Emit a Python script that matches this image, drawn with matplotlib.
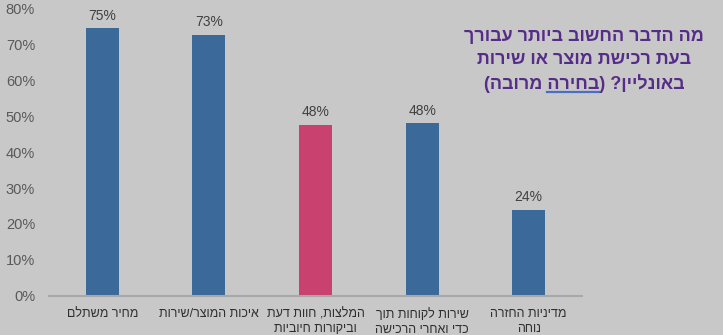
import matplotlib
matplotlib.use("Agg")
import matplotlib.pyplot as plt
from matplotlib.ticker import PercentFormatter

# --- data ---

categories = [
    "מחיר משתלם",
    "איכות המוצר/שירות",
    "המלצות, חוות דעת\nוביקורות חיוביות",
    "שירות לקוחות תוך\nכדי ואחרי הרכישה",
    "מדיניות החזרה\nנוחה",
]
values = [74.6, 72.8, 47.6, 48.1, 23.9]
highlight = 2

title_lines = [
    "מה הדבר החשוב ביותר עבורך",
    "בעת רכישת מוצר או שירות",
    "באונליין? (בחירה מרובה)",
]
underlined_word = "בחירה"

# --- helpers ---

def rtl(s):
    # matplotlib has no bidi support, so flip each line into visual order
    swap = {"(": ")", ")": "("}
    return "\n".join("".join(swap.get(c, c) for c in line[::-1]) for line in s.split("\n"))

bg = "#c8c8c8"
blue = "#3b6999"
pink = "#c8416f"
purple = "#552c88"
title_size = 13
plt.rcParams["font.family"] = ["Liberation Sans", "DejaVu Sans"]

fig = plt.figure(figsize=(7.23, 3.35), dpi=100, facecolor=bg)
ax = fig.add_axes([49 / 723, 1 - 295.5 / 335, 533 / 723, 286.5 / 335])
ax.set_facecolor(bg)

x = range(len(categories))
colors = [pink if i == highlight else blue for i in x]
bars = ax.bar(x, values, width=0.31, color=colors, zorder=2)

for b, v in zip(bars, values):
    ax.text(b.get_x() + b.get_width() / 2, v + 1.6, "%.0f%%" % v,
            ha="center", va="bottom", fontsize=10, color="#404040")

ax.set_xlim(-0.5, len(categories) - 0.5)
ax.set_ylim(0, 80)
ax.set_yticks(range(0, 81, 10))
ax.yaxis.set_major_formatter(PercentFormatter(decimals=0))
ax.tick_params(axis="y", length=0, pad=10, labelsize=10.5, labelcolor="#595959")
ax.tick_params(axis="x", length=0, pad=9)
ax.set_xticks(list(x))
ax.set_xticklabels([rtl(c) for c in categories], fontsize=9, color="#303030",
                   linespacing=1.3, va="top")

for s in ["top", "right", "left"]:
    ax.spines[s].set_visible(False)
ax.spines["bottom"].set_color("#a8a8a8")
ax.spines["bottom"].set_linewidth(1.5)

# --- title block on the right ---

cx = 584 / 723
ys = [1 - 36 / 335, 1 - 60 / 335, 1 - 84 / 335]
texts = []
for line, y in zip(title_lines, ys):
    t = fig.text(cx, y, rtl(line), ha="center", va="center", fontsize=title_size,
                 fontweight="bold", color=purple)
    texts.append(t)

# underline one word of the last line
fig.canvas.draw()
r = fig.canvas.get_renderer()
last = rtl(title_lines[-1])
word = underlined_word[::-1]
start = last.index(word)

def width(s):
    tmp = fig.text(0, 0, s, fontsize=title_size, fontweight="bold")
    w = tmp.get_window_extent(r).width
    tmp.remove()
    return w

ext = texts[-1].get_window_extent(r)
x0 = ext.x0 + width(last[:start])
x1 = x0 + width(word)
uy = ext.y0 + 1
fig.add_artist(plt.Line2D([x0 / fig.bbox.width, x1 / fig.bbox.width],
                          [uy / fig.bbox.height] * 2, color="#4a6fc0", lw=1.6))

fig.savefig("out.png", dpi=100, facecolor=bg)
